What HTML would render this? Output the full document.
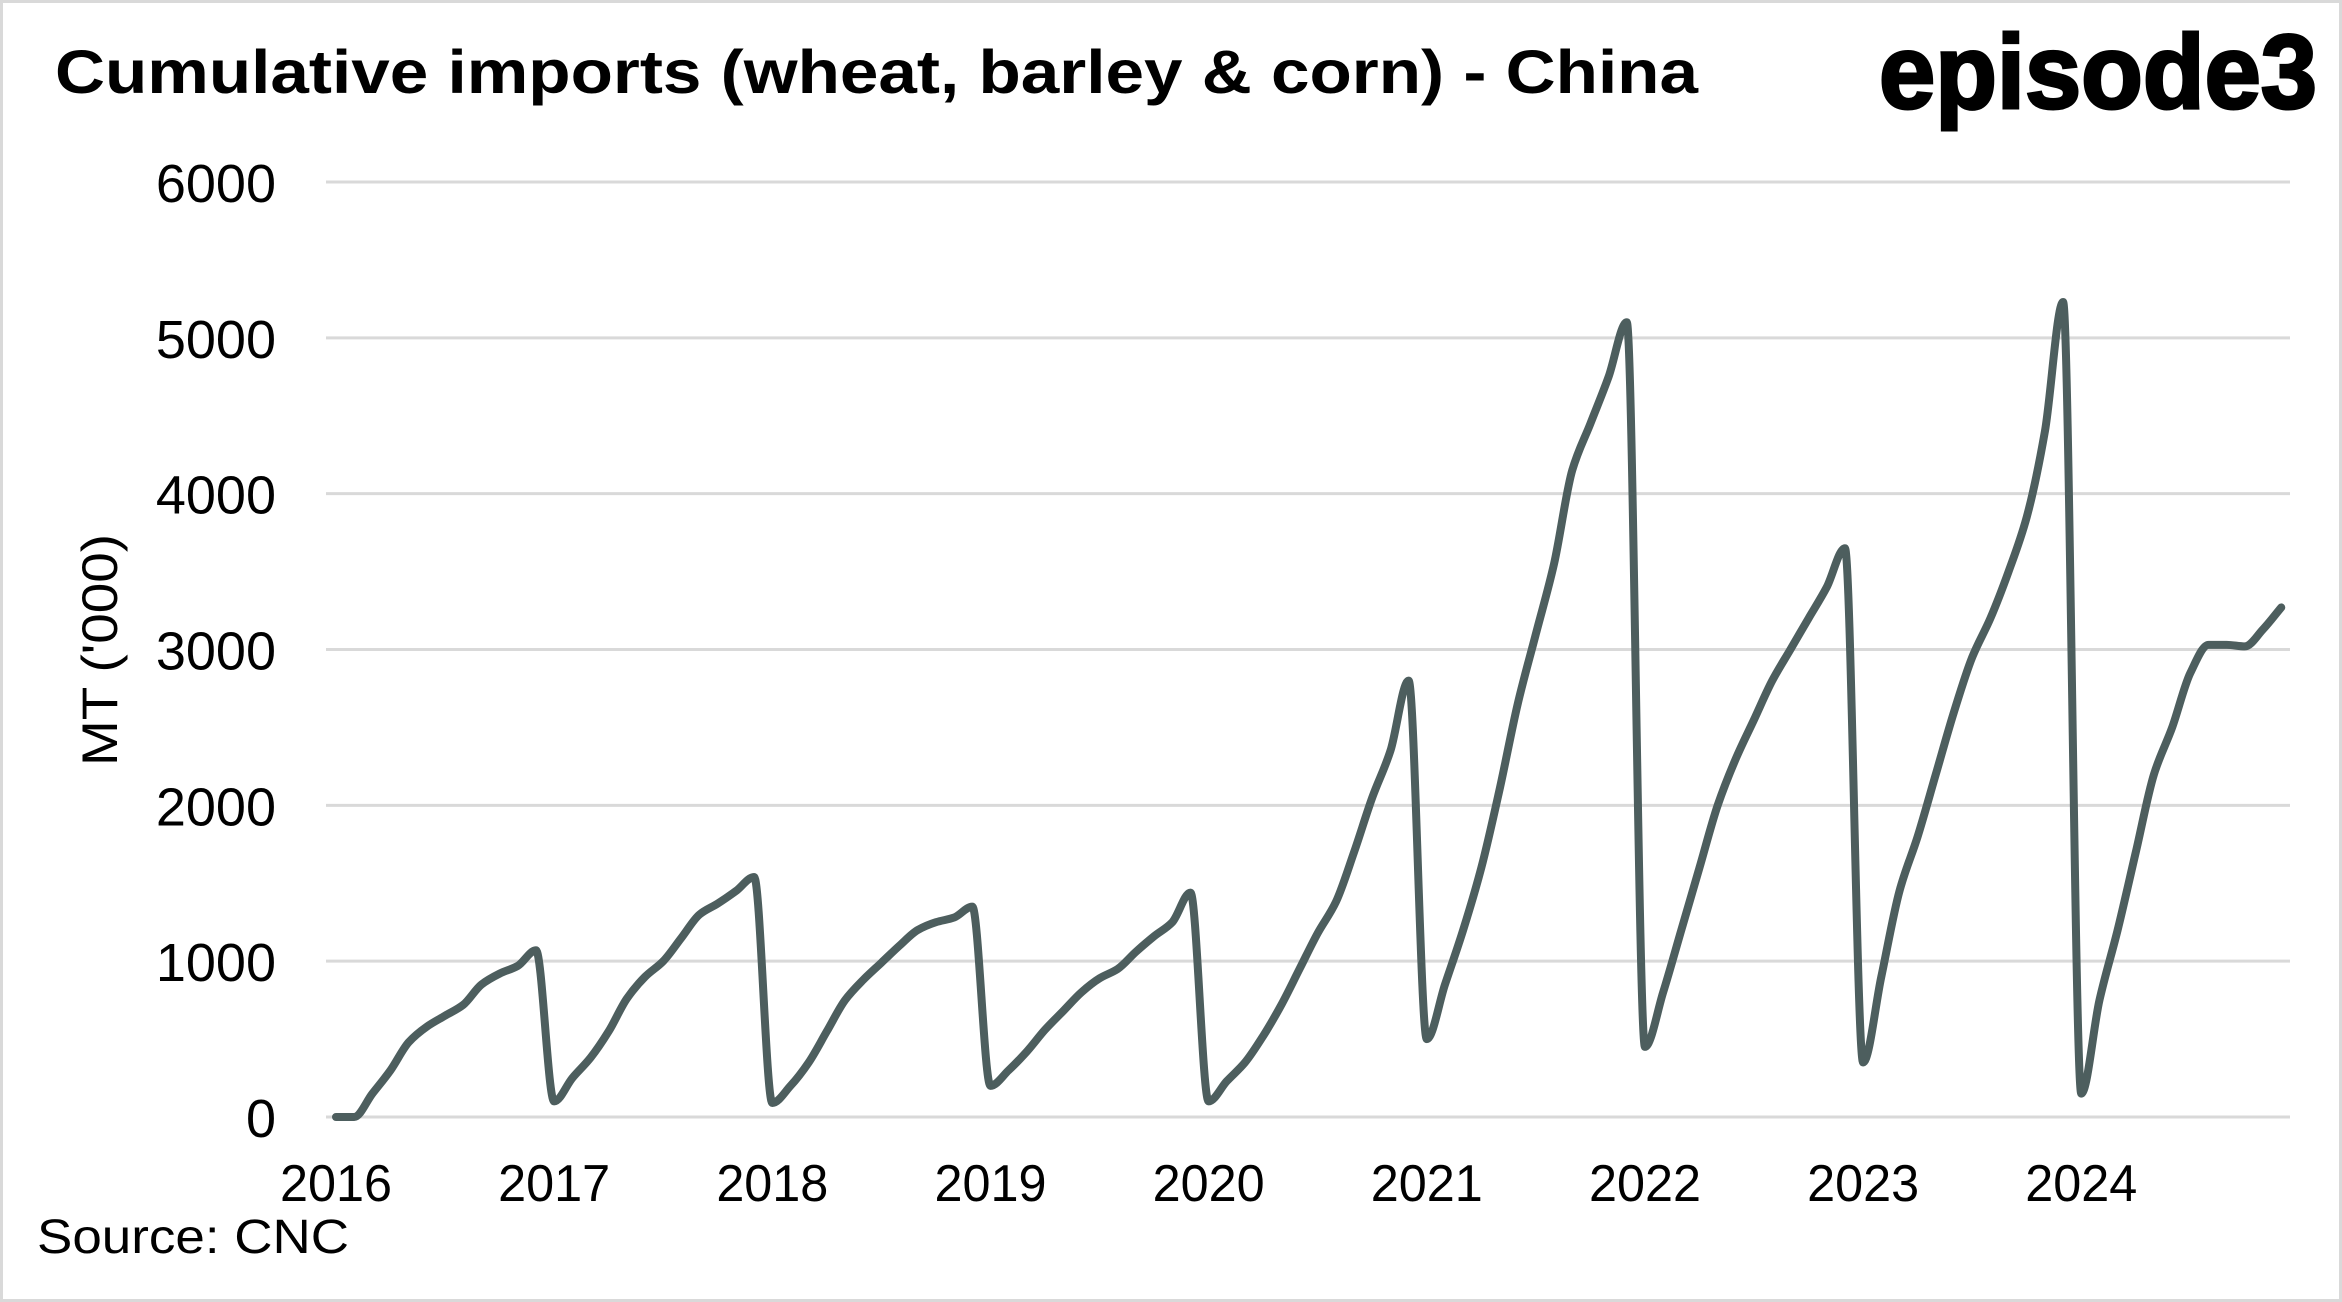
<!DOCTYPE html>
<html><head><meta charset="utf-8">
<style>
html,body{margin:0;padding:0;background:#fff;}
svg{display:block;}
text{font-family:"Liberation Sans",sans-serif;}
</style></head>
<body>
<svg id="chart" width="2342" height="1302" viewBox="0 0 2342 1302" xmlns="http://www.w3.org/2000/svg">
<rect x="1.5" y="1.5" width="2339" height="1299" fill="#fff" stroke="#d9d9d9" stroke-width="3"/>
<text x="55" y="93" font-size="61" font-weight="bold" textLength="1643" lengthAdjust="spacingAndGlyphs">Cumulative imports (wheat, barley &amp; corn) - China</text>
<text x="1879" y="108" font-size="105" font-weight="bold" textLength="438" lengthAdjust="spacingAndGlyphs" stroke="#000" stroke-width="3">episode3</text>
<text transform="translate(117,650) rotate(-90)" text-anchor="middle" font-size="50" textLength="232" lengthAdjust="spacingAndGlyphs">MT ('000)</text>
<text x="37" y="1253" font-size="48" textLength="312" lengthAdjust="spacingAndGlyphs">Source: CNC</text>
<g id="grid"></g>
<g id="yticks"></g>
<g id="xticks"></g>
<g id="series"></g>
</svg>
<script>
const yTicks=[0,1000,2000,3000,4000,5000,6000];
const years=["2016","2017","2018","2019","2020","2021","2022","2023","2024"];
const v2016=[0,0,150,300,480,580,650,720,850,920,970,1070];
const v2017=[100,250,380,550,760,900,1000,1150,1300,1370,1450,1540];
const v2018=[90,200,350,550,750,880,990,1100,1200,1250,1280,1350];
const v2019=[200,300,420,560,680,800,890,950,1060,1160,1250,1440];
const v2020=[100,230,350,520,720,950,1180,1380,1700,2050,2350,2800];
const v2021=[500,850,1200,1600,2100,2650,3100,3550,4150,4450,4750,5100];
const v2022=[450,800,1200,1600,2000,2300,2550,2800,3000,3200,3400,3650];
const v2023=[350,900,1450,1800,2200,2600,2950,3200,3500,3850,4400,5230];
const v2024=[150,750,1200,1700,2200,2500,2850,3030,3030,3020,3130,3270];
const values=[].concat(v2016,v2017,v2018,v2019,v2020,v2021,v2022,v2023,v2024);

const NS="http://www.w3.org/2000/svg";
const y0=1117,y1=182,x0=336,monthW=18.18;
const yScale=v=>y0-(v/6000)*(y0-y1);
const xScale=i=>x0+i*monthW;

const grid=document.getElementById('grid');
const yt=document.getElementById('yticks');
yTicks.forEach(t=>{
  const l=document.createElementNS(NS,'line');
  l.setAttribute('x1',326);l.setAttribute('x2',2290);
  l.setAttribute('y1',yScale(t));l.setAttribute('y2',yScale(t));
  l.setAttribute('stroke','#d9d9d9');l.setAttribute('stroke-width','3');
  
  
  grid.appendChild(l);
  const tx=document.createElementNS(NS,'text');
  tx.setAttribute('x',276);tx.setAttribute('y',yScale(t)+20);
  tx.setAttribute('text-anchor','end');tx.setAttribute('font-size','54');
  tx.textContent=t;
  
  
  yt.appendChild(tx);
});
const xt=document.getElementById('xticks');
years.forEach((y,k)=>{
  const tx=document.createElementNS(NS,'text');
  tx.setAttribute('x',xScale(k*12));tx.setAttribute('y',1201);
  tx.setAttribute('text-anchor','middle');tx.setAttribute('font-size','52');
  tx.setAttribute('textLength','112');tx.setAttribute('lengthAdjust','spacingAndGlyphs');
  tx.textContent=y;
  
  
  xt.appendChild(tx);
});
// monotone cubic interpolation (no overshoot)
const pts=values.map((v,i)=>[xScale(i),yScale(v)]);
const n=pts.length;
const dx=monthW;
const sl=[];for(let i=0;i<n-1;i++)sl.push((pts[i+1][1]-pts[i][1])/dx);
const m=[];
for(let i=0;i<n;i++){
  if(i===0)m.push(sl[0]);else if(i===n-1)m.push(sl[n-2]);
  else{const a=sl[i-1],b=sl[i];m.push(a*b<=0?0:2/(1/a+1/b));}
}
let d='M'+pts[0][0]+','+pts[0][1];
for(let i=0;i<n-1;i++){
  const p1=pts[i],p2=pts[i+1];
  d+=' C'+(p1[0]+dx/3)+','+(p1[1]+m[i]*dx/3)+' '+(p2[0]-dx/3)+','+(p2[1]-m[i+1]*dx/3)+' '+p2[0]+','+p2[1];
}
const path=document.createElementNS(NS,'path');
path.setAttribute('d',d);path.setAttribute('fill','none');
path.setAttribute('stroke','#4d5e5e');path.setAttribute('stroke-width','8');
path.setAttribute('stroke-linejoin','round');path.setAttribute('stroke-linecap','round');


document.getElementById('series').appendChild(path);
</script>
</body></html>
